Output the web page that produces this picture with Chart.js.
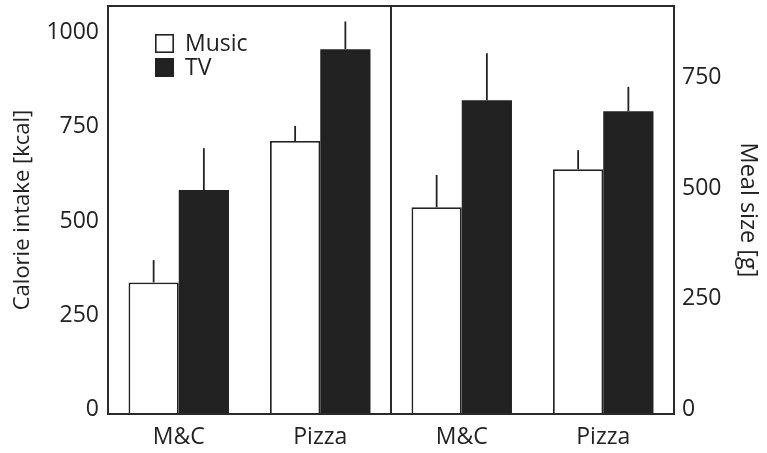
<!DOCTYPE html>
<html>
<head>
<meta charset="utf-8">
<script src="https://cdn.jsdelivr.net/npm/chart.js@4.4.1/dist/chart.umd.min.js"></script>
<style>
  html, body { margin: 0; padding: 0; background: #ffffff; }
  #wrap { width: 767px; height: 453px; }
</style>
</head>
<body>
<div id="wrap"><canvas id="chart" width="767" height="453"></canvas></div>
<script>
// Meal categories, shown once per panel (calorie intake | meal size)
const meals = ['M&C', 'Pizza'];
const categories = [...meals, ...meals];

// Calorie intake [kcal], means and upper error
const kcalMusic = [349, 724];
const kcalTV = [594, 967];
const kcalMusicErr = [59, 40];
const kcalTVErr = [111, 74];

// Meal size [g], means and upper error
const gramMusic = [467, 553];
const gramTV = [709, 684];
const gramMusicErr = [73, 43];
const gramTVErr = [106, 55];

// Axis tick values
const kcalTicks = [0, 250, 500, 750, 1000];
const gramTicks = [0, 250, 500, 750];

const INK = '#222222';
const FONT = "'Open Sans', 'Noto Sans', sans-serif";
const TEXT_SIZE = 23;

const pad = (arr, before) => before ? [...arr, null, null] : [null, null, ...arr];

// Upward error whiskers drawn from each bar top
const errorBars = {
  id: 'errorBars',
  afterDatasetsDraw(chart) {
    const ctx = chart.ctx;
    ctx.save();
    ctx.strokeStyle = INK;
    ctx.lineWidth = 1.8;
    chart.data.datasets.forEach((ds, i) => {
      const meta = chart.getDatasetMeta(i);
      const yScale = chart.scales[ds.yAxisID];
      meta.data.forEach((bar, j) => {
        const v = ds.data[j];
        if (v == null) return;
        const top = yScale.getPixelForValue(v + ds.errors[j]);
        ctx.beginPath();
        ctx.moveTo(bar.x, bar.y);
        ctx.lineTo(bar.x, top);
        ctx.stroke();
      });
    });
    ctx.restore();
  }
};

// Panel frame, divider between the two panels, and the legend
const frame = {
  id: 'frame',
  afterDraw(chart) {
    const {ctx, chartArea: a} = chart;
    const x = chart.scales.x;
    ctx.save();
    ctx.strokeStyle = '#2a2a2a';
    ctx.lineWidth = 2;
    ctx.strokeRect(a.left, a.top, a.right - a.left, a.bottom - a.top);
    const mid = Math.round((x.getPixelForValue(1) + x.getPixelForValue(2)) / 2);
    ctx.beginPath();
    ctx.moveTo(mid, a.top);
    ctx.lineTo(mid, a.bottom);
    ctx.stroke();

    // legend
    const items = [chart.data.datasets[0], chart.data.datasets[1]];
    const lx = a.left + 47, ly = a.top + 28, size = 19, gap = 24;
    ctx.font = TEXT_SIZE + 'px ' + FONT;
    ctx.textBaseline = 'middle';
    items.forEach((ds, k) => {
      const y = ly + k * gap;
      ctx.fillStyle = ds.backgroundColor;
      ctx.fillRect(lx, y, size, size);
      ctx.lineWidth = 1.6;
      ctx.strokeStyle = INK;
      ctx.strokeRect(lx + 0.8, y + 0.8, size - 1.6, size - 1.6);
      ctx.fillStyle = INK;
      ctx.fillText(ds.label, lx + 30, y + size / 2 + 1);
    });
    ctx.restore();
  }
};

const yCommon = (ticks) => ({
  type: 'linear',
  min: 0,
  stacked: false,
  grid: { display: false, drawTicks: false },
  border: { display: false },
  afterBuildTicks: (s) => { s.ticks = ticks.map(v => ({ value: v })); },
  ticks: { color: INK, font: { size: TEXT_SIZE, family: FONT }, labelOffset: -4.5,
           callback: (v) => String(v) }
});

const yKcal = yCommon(kcalTicks);
yKcal.position = 'left';
yKcal.max = 1082;
yKcal.ticks.padding = 9;
yKcal.afterFit = (s) => { s.width = 108; s.paddingTop = 0; s.paddingBottom = 0; };
yKcal.title = { display: true, text: 'Calorie intake [kcal]', color: INK,
  font: { size: 22, family: FONT }, padding: { top: 10, bottom: 0 } };

const yGram = yCommon(gramTicks);
yGram.position = 'right';
yGram.max = 921.7;
yGram.ticks.padding = 8;
yGram.afterFit = (s) => { s.width = 93; s.paddingTop = 0; s.paddingBottom = 0; };
yGram.title = { display: true, text: 'Meal size [g]', color: INK,
  font: { size: 23.5, family: FONT }, padding: { top: 5, bottom: 0 } };

new Chart(document.getElementById('chart'), {
  type: 'bar',
  data: {
    labels: categories,
    datasets: [
      { label: 'Music', data: pad(kcalMusic, true), errors: pad(kcalMusicErr, true),
        yAxisID: 'yKcal', stack: 'music', backgroundColor: '#ffffff', borderColor: INK, borderWidth: 1.8 },
      { label: 'TV', data: pad(kcalTV, true), errors: pad(kcalTVErr, true),
        yAxisID: 'yKcal', stack: 'tv', backgroundColor: INK, borderColor: INK, borderWidth: 0 },
      { label: 'Music', data: pad(gramMusic, false), errors: pad(gramMusicErr, false),
        yAxisID: 'yGram', stack: 'music', backgroundColor: '#ffffff', borderColor: INK, borderWidth: 1.8 },
      { label: 'TV', data: pad(gramTV, false), errors: pad(gramTVErr, false),
        yAxisID: 'yGram', stack: 'tv', backgroundColor: INK, borderColor: INK, borderWidth: 0 }
    ]
  },
  options: {
    responsive: false,
    animation: false,
    devicePixelRatio: 1,
    categoryPercentage: 0.71,
    barPercentage: 1.0,
    layout: { padding: { top: 6, left: 0, right: 0, bottom: 0 } },
    plugins: { legend: { display: false }, tooltip: { enabled: false } },
    scales: {
      x: {
        grid: { display: false, drawTicks: false },
        border: { display: false },
        afterFit: (s) => { s.height = 39; s.paddingLeft = 0; s.paddingRight = 0; },
        ticks: { color: INK, font: { size: TEXT_SIZE, family: FONT }, padding: 10 }
      },
      yKcal,
      yGram
    }
  },
  plugins: [errorBars, frame]
});
</script>
</body>
</html>
